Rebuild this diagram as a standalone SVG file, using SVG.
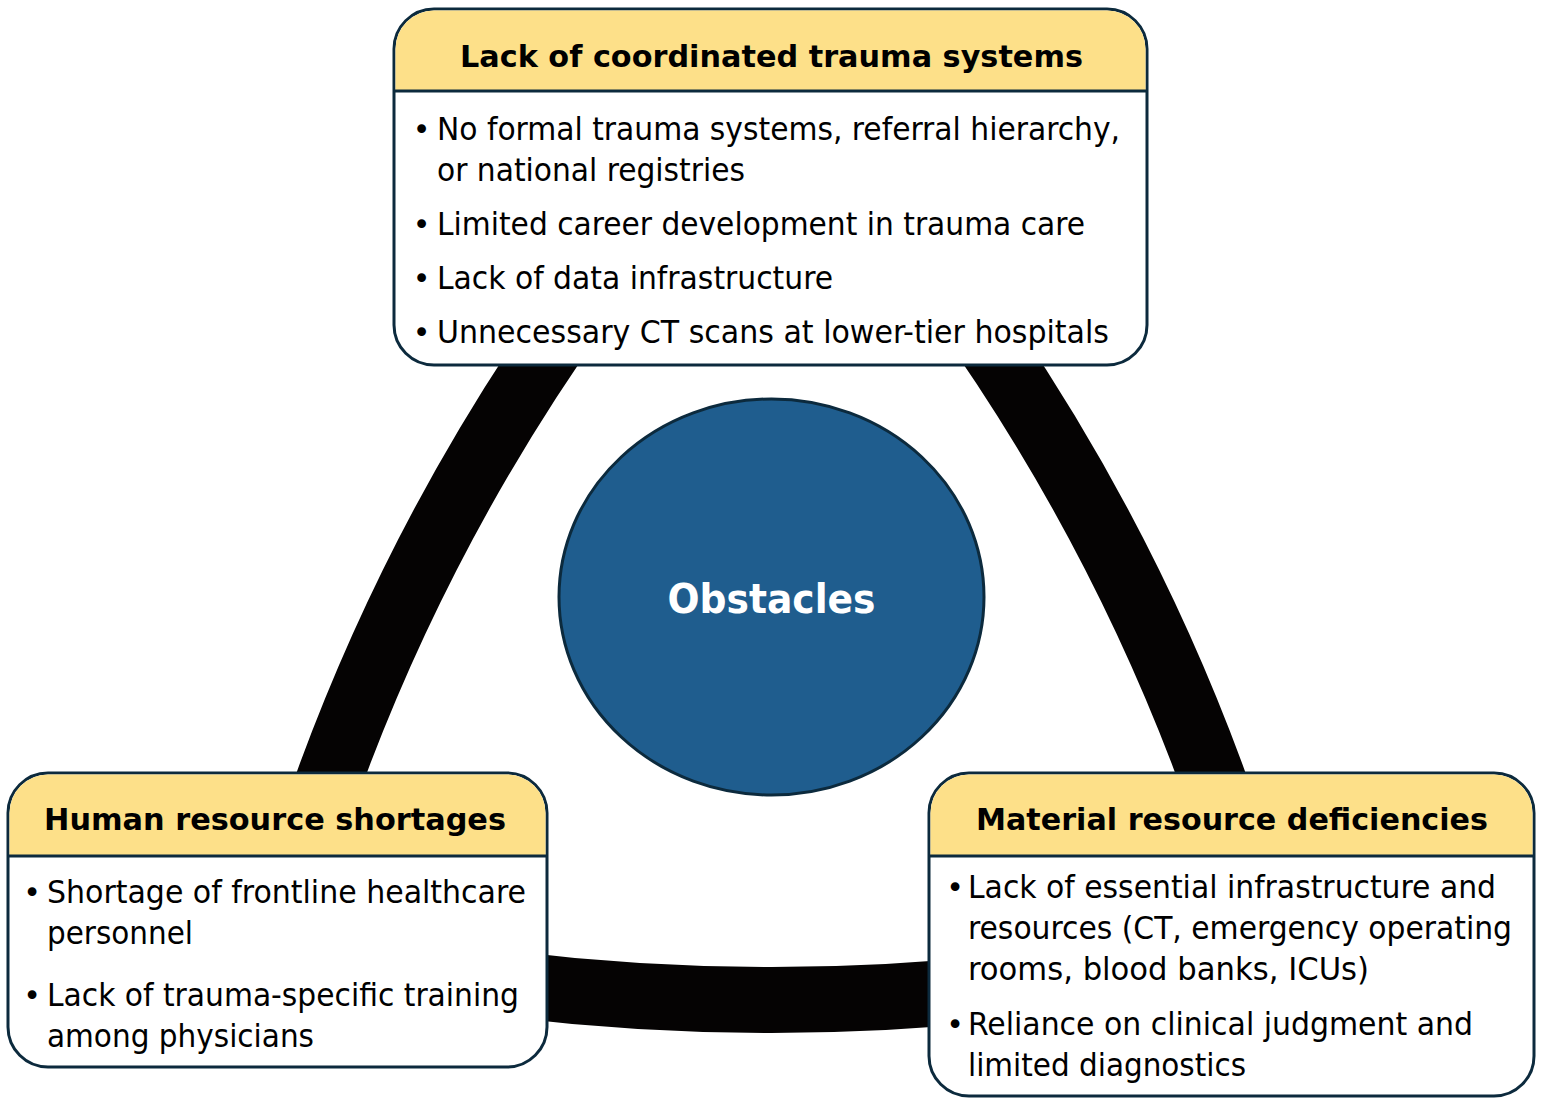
<svg xmlns="http://www.w3.org/2000/svg" width="1545" height="1108" viewBox="0 0 1545 1108">
<defs>
<style>
.band{fill:none;stroke:#050303;stroke-width:66;stroke-linecap:butt}
.box{fill:#ffffff;stroke:#0c2a3d;stroke-width:3}
.hdr{fill:#fde089;stroke:none}
.sep{stroke:#0c2a3d;stroke-width:3}
.title{font-family:"DejaVu Sans","Liberation Sans",sans-serif;font-weight:bold;font-size:31px;fill:#000;text-anchor:middle}
.body{font-family:"DejaVu Sans Condensed","DejaVu Sans","Liberation Sans",sans-serif;font-size:32px;fill:#000}
.bul{font-family:"DejaVu Sans","Liberation Sans",sans-serif;font-size:30px;fill:#000;text-anchor:middle}
.center{font-family:"DejaVu Sans","Liberation Sans",sans-serif;font-weight:bold;font-size:40px;fill:#ffffff;text-anchor:middle}
</style>
</defs>
<rect width="1545" height="1108" fill="#ffffff"/>
<g id="connectors">
<path class="band" d="M 583 300 A 2013 2013 0 0 0 308 840"/>
<path class="band" d="M 959 300 A 2013 2013 0 0 1 1234 840"/>
<path class="band" d="M 500 983 A 2184 2184 0 0 0 1000 988"/>
</g>
<g id="obstacles">
<ellipse cx="771.5" cy="597" rx="212.5" ry="198" fill="#1f5d8e" stroke="#0c2a3d" stroke-width="3"/>
<text class="center" x="771.5" y="613" textLength="208" lengthAdjust="spacingAndGlyphs">Obstacles</text>
</g>
<g id="coordinated-trauma-systems">
<rect class="box" x="394" y="9" width="753" height="356" rx="40" ry="40"/>
<path class="hdr" d="M 395.5 91 L 395.5 49 A 38.5 38.5 0 0 1 434 10.5 L 1107 10.5 A 38.5 38.5 0 0 1 1145.5 49 L 1145.5 91 Z"/>
<line class="sep" x1="394" y1="91" x2="1147" y2="91"/>
<text class="title" x="771.5" y="67" textLength="623" lengthAdjust="spacingAndGlyphs">Lack of coordinated trauma systems</text>
<text class="bul" x="421.5" y="139.5">•</text>
<text class="body" x="437" y="139.5" textLength="683" lengthAdjust="spacingAndGlyphs">No formal trauma systems, referral hierarchy,</text>
<text class="body" x="437" y="180.5" textLength="308" lengthAdjust="spacingAndGlyphs">or national registries</text>
<text class="bul" x="421.5" y="234.5">•</text>
<text class="body" x="437" y="234.5" textLength="648" lengthAdjust="spacingAndGlyphs">Limited career development in trauma care</text>
<text class="bul" x="421.5" y="288.5">•</text>
<text class="body" x="437" y="288.5" textLength="396" lengthAdjust="spacingAndGlyphs">Lack of data infrastructure</text>
<text class="bul" x="421.5" y="342.5">•</text>
<text class="body" x="437" y="342.5" textLength="672" lengthAdjust="spacingAndGlyphs">Unnecessary CT scans at lower-tier hospitals</text>
</g>
<g id="human-resource-shortages">
<rect class="box" x="8" y="773" width="539" height="294" rx="40" ry="40"/>
<path class="hdr" d="M 9.5 856 L 9.5 813 A 38.5 38.5 0 0 1 48 774.5 L 507 774.5 A 38.5 38.5 0 0 1 545.5 813 L 545.5 856 Z"/>
<line class="sep" x1="8" y1="856" x2="547" y2="856"/>
<text class="title" x="275" y="830" textLength="462" lengthAdjust="spacingAndGlyphs">Human resource shortages</text>
<text class="bul" x="32" y="903">•</text>
<text class="body" x="47" y="903" textLength="479" lengthAdjust="spacingAndGlyphs">Shortage of frontline healthcare</text>
<text class="body" x="47" y="944" textLength="146" lengthAdjust="spacingAndGlyphs">personnel</text>
<text class="bul" x="32" y="1006">•</text>
<text class="body" x="47" y="1006" textLength="472" lengthAdjust="spacingAndGlyphs">Lack of trauma-specific training</text>
<text class="body" x="47" y="1047" textLength="267" lengthAdjust="spacingAndGlyphs">among physicians</text>
</g>
<g id="material-resource-deficiencies">
<rect class="box" x="929" y="773" width="605" height="323" rx="40" ry="40"/>
<path class="hdr" d="M 930.5 856 L 930.5 813 A 38.5 38.5 0 0 1 969 774.5 L 1494 774.5 A 38.5 38.5 0 0 1 1532.5 813 L 1532.5 856 Z"/>
<line class="sep" x1="929" y1="856" x2="1534" y2="856"/>
<text class="title" x="1232" y="830" textLength="512" lengthAdjust="spacingAndGlyphs">Material resource deficiencies</text>
<text class="bul" x="955" y="898">•</text>
<text class="body" x="968" y="898" textLength="528" lengthAdjust="spacingAndGlyphs">Lack of essential infrastructure and</text>
<text class="body" x="968" y="939" textLength="544" lengthAdjust="spacingAndGlyphs">resources (CT, emergency operating</text>
<text class="body" x="968" y="980" textLength="401" lengthAdjust="spacingAndGlyphs">rooms, blood banks, ICUs)</text>
<text class="bul" x="955" y="1035">•</text>
<text class="body" x="968" y="1035" textLength="505" lengthAdjust="spacingAndGlyphs">Reliance on clinical judgment and</text>
<text class="body" x="968" y="1076" textLength="278" lengthAdjust="spacingAndGlyphs">limited diagnostics</text>
</g>
</svg>
